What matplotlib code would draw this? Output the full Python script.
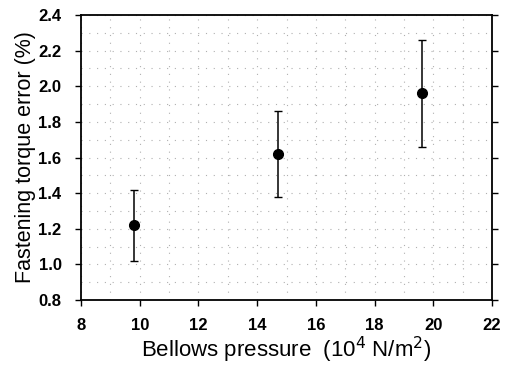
import numpy as np
import matplotlib
matplotlib.use("Agg")
import matplotlib.pyplot as plt
from matplotlib.ticker import MultipleLocator

plt.rcParams['font.family'] = ['Liberation Sans', 'DejaVu Sans']

# data
pressure = [9.8, 14.7, 19.6]
torque_err = [1.22, 1.62, 1.96]
err_lo = [0.20, 0.24, 0.30]
err_hi = [0.20, 0.24, 0.30]

fig = plt.figure(figsize=(5.05, 3.69), dpi=100)
ax = fig.add_axes([81/505, 1-300/369, (492-81)/505, (300-15)/369])

ax.errorbar(pressure, torque_err, yerr=[err_lo, err_hi], fmt='o', color='black',
            ms=7, elinewidth=1.1, capsize=3, capthick=1.0)

ax.set_xlim(8, 22)
ax.set_ylim(0.8, 2.4)
ax.xaxis.set_major_locator(MultipleLocator(2))
ax.xaxis.set_minor_locator(MultipleLocator(1))
ax.yaxis.set_minor_locator(MultipleLocator(0.1))
ax.set_yticks(np.arange(0.8, 2.41, 0.2))
ax.set_yticklabels(["%.1f" % v for v in np.arange(0.8, 2.41, 0.2)])
ax.grid(which='both', color='#b0b0b0', linestyle=(0, (1, 6)), linewidth=0.8)
ax.tick_params(which='major', direction='out', length=4, width=1,
               labelsize=12, pad=9)
ax.tick_params(axis='y', which='major', right=True, pad=10)
ax.tick_params(which='minor', length=0)
for lab in ax.get_xticklabels() + ax.get_yticklabels():
    lab.set_fontweight('bold')
for sp in ax.spines.values():
    sp.set_linewidth(1.3)

ax.set_xlabel("Bellows pressure  (10$^4$ N/m$^2$)", fontsize=16, labelpad=1)
ax.set_ylabel("Fastening torque error (%)", fontsize=15.5, labelpad=2)

fig.savefig("out.png", dpi=100)
